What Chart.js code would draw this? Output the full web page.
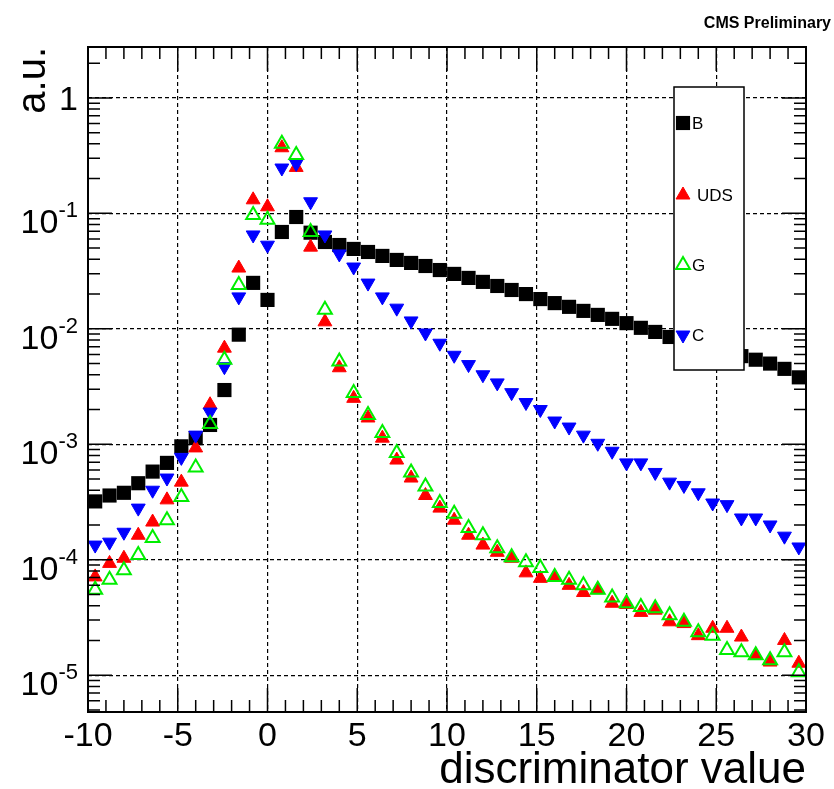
<!DOCTYPE html>
<html>
<head>
<meta charset="utf-8">
<script src="https://cdn.jsdelivr.net/npm/chart.js@4.4.0/dist/chart.umd.min.js"></script>
<style>
	html, body { margin: 0; padding: 0; background: #fff; }
</style>
</head>
<body>
<canvas id="myChart" width="834" height="789"></canvas>
<script>
// bin centres of the discriminator histogram (bin width 0.8)
const binCenters = [-9.6, -8.8, -8.0, -7.2, -6.4, -5.6, -4.8, -4.0, -3.2, -2.4,
	-1.6, -0.8, 0.0, 0.8, 1.6, 2.4, 3.2, 4.0, 4.8, 5.6,
	6.4, 7.2, 8.0, 8.8, 9.6, 10.4, 11.2, 12.0, 12.8, 13.6,
	14.4, 15.2, 16.0, 16.8, 17.6, 18.4, 19.2, 20.0, 20.8, 21.6,
	22.4, 23.2, 24.0, 24.8, 25.6, 26.4, 27.2, 28.0, 28.8, 29.6];

const bValues = [3.2e-4, 3.6e-4, 3.8e-4, 4.6e-4, 5.8e-4, 6.9e-4, 9.6e-4, 1.13e-3, 1.47e-3, 2.95e-3,
	8.9e-3, 0.025, 0.0178, 0.069, 0.093, 0.068, 0.0565, 0.0532, 0.0492, 0.0463,
	0.0428, 0.0395, 0.0372, 0.0350, 0.0323, 0.0299, 0.0276, 0.0255, 0.0235, 0.0217,
	0.0200, 0.0181, 0.0167, 0.0155, 0.0143, 0.0132, 0.0122, 0.0112, 0.0102, 0.0094,
	0.0085, 0.0078, 0.0072, 0.0067, 0.0063, 0.0058, 0.0054, 0.0050, 0.0045, 0.0038];

const udsValues = [7.1e-5, 9.3e-5, 1.03e-4, 1.63e-4, 2.12e-4, 3.3e-4, 4.7e-4, 9.3e-4, 2.2e-3, 6.8e-3,
	0.0336, 0.131, 0.114, 0.37, 0.25, 0.051, 0.0115, 4.6e-3, 2.5e-3, 1.69e-3,
	1.13e-3, 7.3e-4, 5.1e-4, 3.6e-4, 2.8e-4, 2.2e-4, 1.63e-4, 1.34e-4, 1.16e-4, 1.03e-4,
	7.7e-5, 6.9e-5, 7.1e-5, 6.0e-5, 5.2e-5, 5.5e-5, 4.2e-5, 4.1e-5, 3.5e-5, 3.66e-5,
	2.9e-5, 2.8e-5, 2.2e-5, 2.55e-5, 2.55e-5, 2.14e-5, 1.49e-5, 1.3e-5, 2.0e-5, 1.27e-5];

const gValues = [5.5e-5, 6.7e-5, 8.1e-5, 1.1e-4, 1.54e-4, 2.2e-4, 3.5e-4, 6.3e-4, 1.5e-3, 5.4e-3,
	0.024, 0.097, 0.088, 0.40, 0.32, 0.069, 0.0146, 5.2e-3, 2.78e-3, 1.79e-3,
	1.25e-3, 8.4e-4, 5.7e-4, 4.3e-4, 3.1e-4, 2.5e-4, 1.88e-4, 1.63e-4, 1.26e-4, 1.05e-4,
	9.5e-5, 8.5e-5, 7.1e-5, 6.7e-5, 6.0e-5, 5.5e-5, 4.7e-5, 4.2e-5, 3.9e-5, 3.8e-5,
	3.3e-5, 2.9e-5, 2.36e-5, 2.2e-5, 1.65e-5, 1.58e-5, 1.49e-5, 1.35e-5, 1.58e-5, 1.06e-5];

const cValues = [1.34e-4, 1.42e-4, 1.73e-4, 2.8e-4, 4.0e-4, 5.1e-4, 7.7e-4, 1.2e-3, 1.9e-3, 4.7e-3,
	0.0189, 0.065, 0.053, 0.247, 0.27, 0.126, 0.065, 0.0445, 0.0343, 0.0249,
	0.0189, 0.0151, 0.0117, 0.0092, 0.0075, 0.0059, 0.0049, 0.0040, 0.0034, 0.0028,
	0.0023, 0.0020, 1.59e-3, 1.41e-3, 1.2e-3, 1.02e-3, 8.7e-4, 6.9e-4, 6.9e-4, 5.7e-4,
	4.7e-4, 4.4e-4, 3.8e-4, 3.1e-4, 3.0e-4, 2.3e-4, 2.3e-4, 2.0e-4, 1.6e-4, 1.29e-4];

const seriesLabels = ['B', 'UDS', 'G', 'C'];
const yDecades = [1, 1e-1, 1e-2, 1e-3, 1e-4, 1e-5];
const yTickExponents = ['', '-1', '-2', '-3', '-4', '-5'];
const xTitle = 'discriminator value';
const yTitle = 'a.u.';
const cornerText = 'CMS Preliminary';

const FONT = '"Liberation Sans", Arial, Helvetica, sans-serif';

function toPoints(values){
	return values.map((v, i) => ({x: binCenters[i], y: v}));
}

// marker shapes, same as the datasets use
function drawMarker(ctx, ds, x, y){
	const r = ds.pointRadius;
	ctx.save();
	ctx.fillStyle = ds.backgroundColor;
	ctx.strokeStyle = ds.borderColor;
	ctx.lineWidth = ds.borderWidth;
	ctx.beginPath();
	if (ds.pointStyle === 'rect') {
		const s = Math.SQRT1_2 * r;
		ctx.rect(x - s, y - s, 2 * s, 2 * s);
	} else {
		let rad = (ds.rotation || 0) * Math.PI / 180;
		ctx.moveTo(x + Math.sin(rad) * r, y - Math.cos(rad) * r);
		rad += 2 * Math.PI / 3;
		ctx.lineTo(x + Math.sin(rad) * r, y - Math.cos(rad) * r);
		rad += 2 * Math.PI / 3;
		ctx.lineTo(x + Math.sin(rad) * r, y - Math.cos(rad) * r);
		ctx.closePath();
	}
	ctx.fill();
	if (ds.borderWidth > 0) ctx.stroke();
	ctx.restore();
}

// frame + inner tick marks like ROOT
const frameTicks = {
	id: 'frameTicks',
	afterDatasetsDraw(chart) {
		const {ctx, chartArea: a, scales: {x, y}} = chart;
		ctx.save();
		ctx.strokeStyle = '#000';
		ctx.lineWidth = 1.5;
		ctx.beginPath();
		for (let v = -10; v <= 30; v++) {
			const px = x.getPixelForValue(v);
			const len = v % 5 === 0 ? 24 : 12;
			ctx.moveTo(px, a.bottom); ctx.lineTo(px, a.bottom - len);
			ctx.moveTo(px, a.top); ctx.lineTo(px, a.top + len);
		}
		for (let d = -6; d <= 0; d++) {
			for (let m = 1; m <= 9; m++) {
				const v = m * Math.pow(10, d);
				if (v < y.min || v > y.max) continue;
				const py = y.getPixelForValue(v);
				const len = m === 1 ? 24 : 12;
				ctx.moveTo(a.left, py); ctx.lineTo(a.left + len, py);
				ctx.moveTo(a.right, py); ctx.lineTo(a.right - len, py);
			}
		}
		ctx.stroke();
		ctx.lineWidth = 2;
		ctx.strokeRect(a.left, a.top, a.right - a.left, a.bottom - a.top);
		ctx.restore();
	}
};

// y labels with superscript exponents, legend box and corner text
const extras = {
	id: 'extras',
	afterDraw(chart) {
		const {ctx, scales: {y}} = chart;
		ctx.save();
		ctx.fillStyle = '#000';
		ctx.textBaseline = 'alphabetic';
		yDecades.forEach((v, i) => {
			const py = y.getPixelForValue(v);
			const exp = yTickExponents[i];
			if (exp === '') {
				ctx.font = '34px ' + FONT;
				ctx.textAlign = 'right';
				ctx.fillText('1', 78, py + 12);
			} else {
				ctx.font = '22px ' + FONT;
				const sw = ctx.measureText(exp).width;
				ctx.font = '34px ' + FONT;
				const bw = ctx.measureText('10').width;
				const x0 = 78 - sw - bw;
				ctx.textAlign = 'left';
				ctx.fillText('10', x0, py + 20);
				ctx.font = '22px ' + FONT;
				ctx.fillText(exp, x0 + bw, py + 4);
			}
		});

		ctx.font = 'bold 16px ' + FONT;
		ctx.textAlign = 'right';
		ctx.fillText(cornerText, 831, 28);

		// legend
		ctx.fillStyle = '#fff';
		ctx.fillRect(674, 87, 70, 283);
		ctx.strokeStyle = '#000';
		ctx.lineWidth = 1.5;
		ctx.strokeRect(674, 87, 70, 283);
		const rows = [123, 195, 265, 335];
		chart.data.datasets.forEach((ds, i) => {
			drawMarker(ctx, ds, 683, rows[i]);
			ctx.fillStyle = '#000';
			ctx.font = '17px ' + FONT;
			ctx.textAlign = 'left';
			ctx.fillText(seriesLabels[i], i === 1 ? 697 : 692, rows[i] + 6);
		});
		ctx.restore();
	}
};

const ctx = document.getElementById('myChart').getContext('2d');
const myChart = new Chart(ctx, {
	type: 'scatter',
	data: {
		datasets: [
			{label: seriesLabels[0], data: toPoints(bValues), pointStyle: 'rect', pointRadius: 10, backgroundColor: '#000000', borderColor: '#000000', borderWidth: 0, order: 3},
			{label: seriesLabels[1], data: toPoints(udsValues), pointStyle: 'triangle', pointRadius: 8, backgroundColor: '#ff0000', borderColor: '#ff0000', borderWidth: 1, order: 2},
			{label: seriesLabels[2], data: toPoints(gValues), pointStyle: 'triangle', pointRadius: 8, backgroundColor: 'rgba(0,0,0,0)', borderColor: '#00ee00', borderWidth: 2, order: 0},
			{label: seriesLabels[3], data: toPoints(cValues), pointStyle: 'triangle', rotation: 180, pointRadius: 8, backgroundColor: '#0000ff', borderColor: '#0000ff', borderWidth: 1, order: 1}
		]
	},
	options: {
		responsive: false,
		animation: false,
		events: [],
		layout: {padding: {left: 0, top: 47, right: 28, bottom: 0}},
		elements: {point: {hoverRadius: 8}},
		plugins: {legend: {display: false}, tooltip: {enabled: false}},
		scales: {
			x: {
				type: 'linear',
				min: -10,
				max: 30,
				afterFit: (scale) => { scale.height = 77; },
				ticks: {stepSize: 5, autoSkip: false, maxRotation: 0, padding: 4, color: '#000', font: {family: FONT, size: 34}},
				grid: {color: '#000', lineWidth: 1.2, drawTicks: false},
				border: {display: false, dash: [4, 3]},
				title: {display: true, text: xTitle, align: 'end', color: '#000', font: {family: FONT, size: 44, lineHeight: 0.82}, padding: 0}
			},
			y: {
				type: 'logarithmic',
				min: 4.8e-6,
				max: 2.76,
				afterFit: (scale) => { scale.width = 88; },
				afterBuildTicks: (scale) => { scale.ticks = yDecades.map(v => ({value: v})); },
				ticks: {display: false},
				grid: {color: '#000', lineWidth: 1.2, drawTicks: false},
				border: {display: false, dash: [4, 3]},
				title: {display: true, text: yTitle, align: 'end', color: '#000', font: {family: FONT, size: 40, lineHeight: 1}, padding: {top: 14, bottom: 0}}
			}
		}
	},
	plugins: [frameTicks, extras]
});
</script>
</body>
</html>
